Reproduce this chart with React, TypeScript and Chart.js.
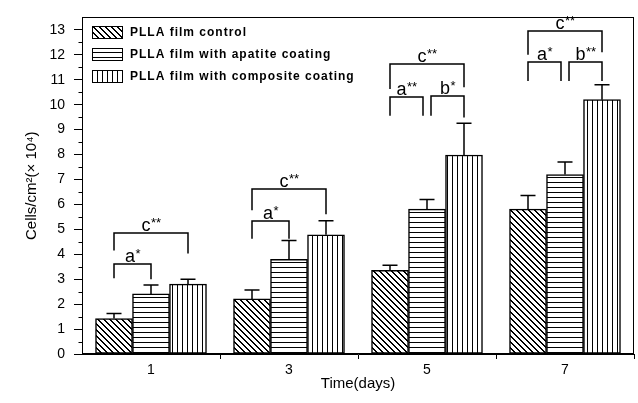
import React, { useEffect, useRef } from 'react';
import { Chart, registerables } from 'chart.js';

Chart.register(...registerables);

// ---------- data ----------
const days = [1, 3, 5, 7];
const seriesNames = [
  'PLLA film control',
  'PLLA film with apatite coating',
  'PLLA film with composite coating',
];
const controlValues = [1.42, 2.21, 3.36, 5.81];
const controlErrors = [0.2, 0.36, 0.2, 0.55];
const apatiteValues = [2.41, 3.8, 5.81, 7.2];
const apatiteErrors = [0.36, 0.75, 0.39, 0.5];
const compositeValues = [2.8, 4.78, 7.98, 10.2];
const compositeErrors = [0.2, 0.56, 1.27, 0.6];

const yTickValues = [0, 1, 2, 3, 4, 5, 6, 7, 8, 9, 10, 11, 12, 13];
const yMinorValues = [0.5, 1.5, 2.5, 3.5, 4.5, 5.5, 6.5, 7.5, 8.5, 9.5, 10.5, 11.5, 12.5];
const xTickValues = [0, 1, 2, 3, 4, 5, 6, 7, 8];
const xLabelledTicks = [1, 3, 5, 7];
const xMarkedTicks = [2, 4, 6, 8];

// significance brackets (in data units)
const bracketDays = [1, 1, 3, 3, 5, 5, 5, 7, 7, 7];
const bracketFrom = [0, 0, 0, 0, 0, 1, 0, 0, 1, 0];
const bracketTo = [1, 2, 1, 2, 1, 2, 2, 1, 2, 2];
const bracketLine = [3.6, 4.86, 5.34, 6.6, 10.3, 10.36, 11.62, 11.7, 11.7, 12.97];
const bracketLeftEnd = [3.04, 4.15, 4.62, 5.77, 9.56, 9.56, 10.63, 10.95, 10.95, 12.0];
const bracketRightEnd = [3.0, 4.03, 4.62, 5.6, 9.56, 9.49, 10.7, 10.95, 10.95, 12.1];
const bracketLetters = ['a', 'c', 'a', 'c', 'a', 'b', 'c', 'a', 'b', 'c'];
const bracketStars = ['*', '**', '*', '**', '**', '*', '**', '*', '**', '**'];

const allValues = [controlValues, apatiteValues, compositeValues];
const allErrors = [controlErrors, apatiteErrors, compositeErrors];

const FONT = '"Liberation Sans", Arial, sans-serif';

function makePattern(kind: string): CanvasPattern | string {
  const c = document.createElement('canvas');
  const s = kind === 'diag' ? 6 : 5;
  c.width = s;
  c.height = s;
  const g = c.getContext('2d');
  if (!g) return '#fff';
  g.fillStyle = '#fff';
  g.fillRect(0, 0, s, s);
  g.fillStyle = '#000';
  if (kind === 'diag') {
    for (let i = 0; i < s; i++) {
      g.fillRect(i, i, 1, 1);
      g.fillRect((i + 1) % s, i, 1, 1);
    }
  } else if (kind === 'horiz') {
    g.fillRect(0, 2, s, 1);
  } else {
    g.fillRect(2, 0, 1, s);
  }
  const p = g.createPattern(c, 'repeat');
  return p || '#fff';
}

const errorBarPlugin = {
  id: 'errorBars',
  afterDatasetsDraw(chart: any) {
    const { ctx } = chart;
    const ys = chart.scales.y;
    ctx.save();
    ctx.strokeStyle = '#000';
    ctx.lineWidth = 1.5;
    chart.data.datasets.forEach((_ds: any, i: number) => {
      const meta = chart.getDatasetMeta(i);
      meta.data.forEach((bar: any, j: number) => {
        const top = ys.getPixelForValue(allValues[i][j] + allErrors[i][j]);
        const x = Math.round(bar.x);
        ctx.beginPath();
        ctx.moveTo(x, bar.y);
        ctx.lineTo(x, top);
        ctx.moveTo(x - 7.5, top);
        ctx.lineTo(x + 7.5, top);
        ctx.stroke();
      });
    });
    ctx.restore();
  },
};

const bracketPlugin = {
  id: 'brackets',
  afterDatasetsDraw(chart: any) {
    const { ctx } = chart;
    const ys = chart.scales.y;
    ctx.save();
    ctx.strokeStyle = '#000';
    ctx.fillStyle = '#000';
    ctx.lineWidth = 1.5;
    for (let k = 0; k < bracketDays.length; k++) {
      const j = days.indexOf(bracketDays[k]);
      const a = chart.getDatasetMeta(bracketFrom[k]).data[j];
      const b = chart.getDatasetMeta(bracketTo[k]).data[j];
      let x1 = Math.round(a.x);
      let x2 = Math.round(b.x);
      // keep neighbouring brackets that share a bar apart
      for (let m = 0; m < bracketDays.length; m++) {
        if (m === k || bracketDays[m] !== bracketDays[k]) continue;
        if (bracketFrom[m] === bracketTo[k]) x2 -= 4;
        if (bracketTo[m] === bracketFrom[k]) x1 += 4;
      }
      const yl = Math.round(ys.getPixelForValue(bracketLine[k]));
      const yA = ys.getPixelForValue(bracketLeftEnd[k]);
      const yB = ys.getPixelForValue(bracketRightEnd[k]);
      ctx.beginPath();
      ctx.moveTo(x1, yA);
      ctx.lineTo(x1, yl);
      ctx.lineTo(x2, yl);
      ctx.lineTo(x2, yB);
      ctx.stroke();

      ctx.font = `18px ${FONT}`;
      const wL = ctx.measureText(bracketLetters[k]).width;
      ctx.font = `13px ${FONT}`;
      const wS = ctx.measureText(bracketStars[k]).width;
      const start = (x1 + x2) / 2 - (wL + wS) / 2;
      ctx.textBaseline = 'alphabetic';
      ctx.textAlign = 'left';
      ctx.font = `18px ${FONT}`;
      ctx.fillText(bracketLetters[k], start, yl - 2);
      ctx.font = `13px ${FONT}`;
      ctx.fillText(bracketStars[k], start + wL + 0.5, yl - 6);
    }
    ctx.restore();
  },
};

const minorTickPlugin = {
  id: 'minorTicks',
  afterDraw(chart: any) {
    const { ctx, chartArea } = chart;
    const ys = chart.scales.y;
    ctx.save();
    ctx.strokeStyle = '#000';
    ctx.lineWidth = 1;
    const x0 = Math.round(chartArea.left) + 0.5;
    yMinorValues.forEach((v) => {
      const y = Math.round(ys.getPixelForValue(v)) + 0.5;
      ctx.beginPath();
      ctx.moveTo(x0, y);
      ctx.lineTo(x0 - 4, y);
      ctx.stroke();
    });
    ctx.restore();
  },
};

const framePlugin = {
  id: 'frame',
  afterDraw(chart: any) {
    const { ctx, chartArea } = chart;
    ctx.save();
    ctx.strokeStyle = '#000';
    ctx.lineWidth = 1;
    const l = Math.round(chartArea.left) + 0.5;
    const r = Math.round(chartArea.right) - 0.5;
    const t = Math.round(chartArea.top) + 0.5;
    const b = Math.round(chartArea.bottom) - 0.5;
    ctx.strokeRect(l, t, r - l, b - t);
    ctx.restore();
  },
};

const legendPlugin = {
  id: 'insideLegend',
  afterDraw(chart: any) {
    const { ctx, chartArea } = chart;
    ctx.save();
    chart.data.datasets.forEach((ds: any, i: number) => {
      const bx = Math.round(chartArea.left) + 10;
      const by = Math.round(chartArea.top) + 9 + i * 22;
      ctx.fillStyle = ds.backgroundColor;
      ctx.fillRect(bx, by, 30, 12);
      ctx.strokeStyle = '#000';
      ctx.lineWidth = 1;
      ctx.strokeRect(bx + 0.5, by + 0.5, 30, 12);
      ctx.fillStyle = '#000';
      ctx.font = `bold 12px ${FONT}`;
      (ctx as any).letterSpacing = '1px';
      ctx.textBaseline = 'middle';
      ctx.textAlign = 'left';
      ctx.fillText(ds.label, bx + 38, by + 6.5);
    });
    ctx.restore();
  },
};

export default function App() {
  const ref = useRef<HTMLCanvasElement | null>(null);

  useEffect(() => {
    document.body.style.margin = '0';
    if (!ref.current) return;
    const patterns = [makePattern('diag'), makePattern('horiz'), makePattern('vert')];
    const datasets = allValues.map((vals, i) => ({
      label: seriesNames[i],
      data: vals.map((v, j) => ({ x: days[j], y: v })),
      backgroundColor: patterns[i] as any,
      borderColor: '#000',
      borderWidth: 1.5,
      borderSkipped: false as any,
      barThickness: 37,
    }));

    const chart = new Chart(ref.current, {
      type: 'bar',
      data: { datasets },
      options: {
        animation: false,
        responsive: false,
        maintainAspectRatio: false,
        events: [],
        layout: { padding: { top: 12, right: 4, left: 0, bottom: 0 } },
        plugins: {
          legend: { display: false },
          tooltip: { enabled: false },
        },
        scales: {
          x: {
            type: 'linear',
            min: 0,
            max: 8,
            offset: false,
            afterBuildTicks: (s: any) => {
              s.ticks = xTickValues.map((v) => ({ value: v }));
            },
            afterFit: (s: any) => {
              s.height = 49;
            },
            grid: {
              offset: false,
              drawOnChartArea: false,
              drawTicks: true,
              tickLength: 5,
              tickColor: (c: any) =>
                xMarkedTicks.includes(c.tick && c.tick.value) ? '#000' : 'rgba(0,0,0,0)',
            },
            border: { display: true, color: '#000', width: 1 },
            ticks: {
              autoSkip: false,
              maxRotation: 0,
              padding: 3,
              color: '#000',
              font: { family: FONT, size: 14 },
              callback: (v: any) => (xLabelledTicks.includes(Number(v)) ? String(v) : ''),
            },
            title: {
              display: true,
              text: 'Time(days)',
              color: '#000',
              font: { family: FONT, size: 15 },
              padding: { top: 0, bottom: 10 },
            },
          } as any,
          y: {
            type: 'linear',
            min: 0,
            max: 13.5,
            afterBuildTicks: (s: any) => {
              s.ticks = yTickValues.map((v) => ({ value: v }));
            },
            afterFit: (s: any) => {
              s.width = 82;
            },
            grid: {
              drawOnChartArea: false,
              drawTicks: true,
              tickLength: 8,
              tickColor: '#000',
            },
            border: { display: true, color: '#000', width: 1 },
            ticks: {
              padding: 9,
              color: '#000',
              font: { family: FONT, size: 14 },
              callback: (v: any) => String(v),
            },
            title: {
              display: true,
              text: 'Cells/cm²(× 10⁴)',
              color: '#000',
              font: { family: FONT, size: 15 },
              padding: { top: 23, bottom: 0 },
            },
          } as any,
        },
      },
      plugins: [errorBarPlugin, bracketPlugin, minorTickPlugin, framePlugin, legendPlugin],
    });

    return () => chart.destroy();
  }, []);

  return (
    <canvas
      ref={ref}
      width={638}
      height={403}
      style={{ display: 'block', width: 638, height: 403 }}
    />
  );
}
